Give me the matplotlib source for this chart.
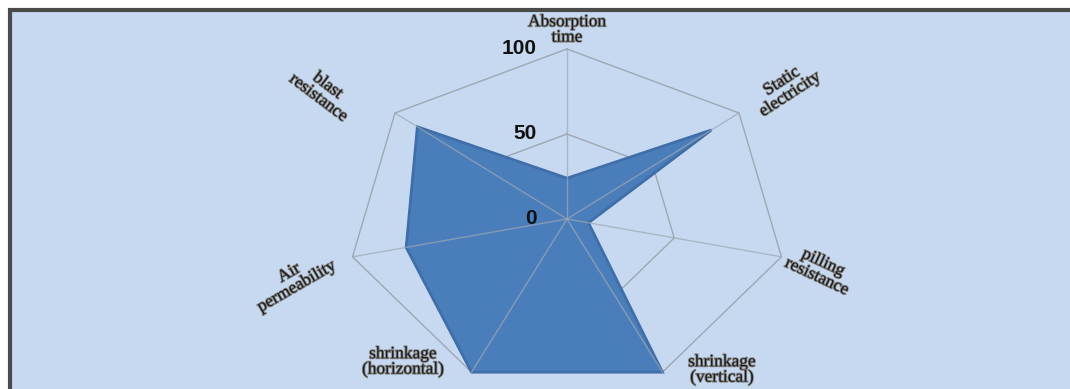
import numpy as np
import matplotlib.pyplot as plt
import matplotlib.patheffects as pe
from matplotlib.patches import Rectangle

# Radar chart data (values on a 0-100 scale)
categories = ['Absorption\ntime', 'Static\nelectricity', 'pilling\nresistance',
              'shrinkage\n(vertical)', 'shrinkage\n(horizontal)', 'Air\npermeability',
              'blast\nresistance']
values = [24, 84, 10, 100, 100, 75, 87]
rings = [0, 50, 100]
ring_labels = ['0', '50', '100']

# label placement in image pixels (x, y from top) and rotation
label_px = [(567, 30), (786, 88), (820, 270), (722, 370), (403, 362), (293, 280), (323, 92)]
label_rot = [0, 33, -25, 0, 0, 30, -37]

W, H = 1070, 389
cx, cy = 567, 219          # centre of the web, image pixels
sx, sy = 2.2, 1.7          # pixels per unit (image is stretched horizontally)

fig = plt.figure(figsize=(W / 100, H / 100), dpi=100)
fig.patch.set_facecolor('white')

ax = fig.add_axes([0, 0, 1, 1])
ax.set_facecolor('none')
ax.set_xlim(-cx / sx, (W - cx) / sx)
ax.set_ylim(-(H - cy) / sy, cy / sy)
ax.axis('off')

# light blue panel with dark frame on the top/left edge
ax.add_patch(Rectangle((10 / W, -0.1), 1.2, (H - 10) / H + 0.1,
                       transform=fig.transFigure, facecolor='#c6d9f0',
                       edgecolor='#4a4a4a', linewidth=3, zorder=0, clip_on=False))

n = len(categories)
theta = np.arange(n) * 2 * np.pi / n
ux, uy = np.sin(theta), np.cos(theta)

# web rings (hidden behind the filled area)
for r in rings[1:]:
    ax.plot(np.append(r * ux, r * ux[0]), np.append(r * uy, r * uy[0]),
            color='#9ea7b3', lw=1, zorder=1)

# data polygon
vals = np.array(values, dtype=float)
px = np.append(vals * ux, vals[0] * ux[0])
py = np.append(vals * uy, vals[0] * uy[0])
ax.fill(px, py, color='#4a7ebb', zorder=2)
ax.plot(px, py, color='#3f6ea8', lw=2, zorder=2, solid_joinstyle='miter')

# spokes, visible through the fill
for i in range(n):
    ax.plot([0, rings[-1] * ux[i]], [0, rings[-1] * uy[i]],
            color='#9ea7b3', lw=1, alpha=0.7, zorder=3)

# scale labels
for r, t in zip(rings, ring_labels):
    ax.text(-30 / sx, r, t, ha='right', va='center', fontsize=15,
            fontweight='bold', family='Liberation Sans', color='#111111', zorder=4)

# category labels
for lab, (lx, ly), rot in zip(categories, label_px, label_rot):
    ax.text((lx - cx) / sx, (cy - ly) / sy, lab, ha='center', va='center',
            rotation=rot, rotation_mode='anchor', fontsize=12.5, linespacing=0.95,
            family='Liberation Serif', color='#1a1a1a', zorder=4,
            path_effects=[pe.withStroke(linewidth=1.3, foreground='#8a8a8a')])

fig.savefig('out.png', dpi=100)
